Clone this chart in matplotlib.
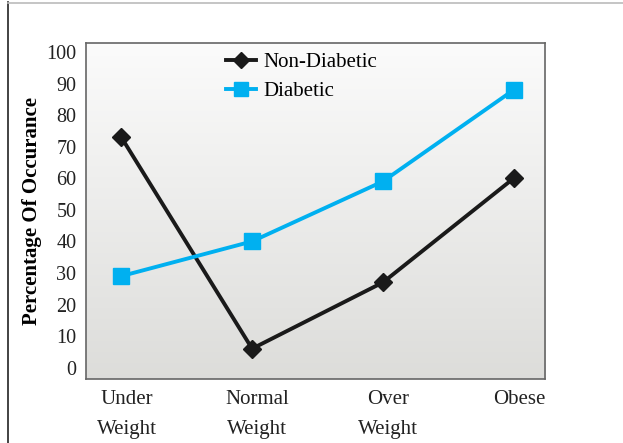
import matplotlib.pyplot as plt
import numpy as np
from matplotlib.lines import Line2D

categories = ['Under\nWeight', 'Normal\nWeight', 'Over\nWeight', 'Obese']
non_diabetic = [73, 6, 27, 60]
diabetic = [29, 40, 59, 88]
yticks = [0, 10, 20, 30, 40, 50, 60, 70, 80, 90, 100]

plt.rcParams['font.family'] = ['Liberation Serif', 'DejaVu Serif']

fig = plt.figure(figsize=(6.23, 4.43), dpi=100)
ax = fig.add_axes([0.138, 0.1445, 0.737, 0.758])

x = np.arange(len(categories))

# background gradient, white at top to light grey at bottom
grad = np.linspace(0, 1, 256).reshape(-1, 1)
top = np.array([0.985, 0.985, 0.985])
bot = np.array([0.865, 0.865, 0.855])
img = top + (bot - top) * grad[..., None]
ax.imshow(img, extent=[0, 1, 0, 1], transform=ax.transAxes, aspect='auto', zorder=0)

ax.plot(x, non_diabetic, color='#1a1a1a', linewidth=2.8, marker='D', markersize=9,
        label='Non-Diabetic', zorder=3)
ax.plot(x, diabetic, color='#00b0f0', linewidth=2.8, marker='s', markersize=11,
        label='Diabetic', zorder=3)

ax.set_xlim(-0.27, 3.24)
ax.set_ylim(-3.6, 102.8)
ax.set_yticks(yticks)
ax.set_yticklabels([str(v) for v in yticks], fontsize=14.5, color='#222222')
ax.set_xticks(x + 0.04)
ax.set_xticklabels(categories, fontsize=15, color='#222222', linespacing=1.75)
ax.tick_params(axis='both', length=0, pad=7)
ax.tick_params(axis='x', pad=8)

for s in ax.spines.values():
    s.set_color('#666666')
    s.set_linewidth(1.2)

ax.set_ylabel('Percentage Of Occurance', fontsize=15, fontweight='bold', labelpad=3)

ax.legend(loc='upper center', bbox_to_anchor=(0.47, 1.027), frameon=False, fontsize=15,
          handlelength=1.45, labelspacing=0.45, handletextpad=0.35, markerscale=0.9)

# page frame lines
fig.add_artist(Line2D([0.013, 0.013], [0, 0.995], color='#222222', linewidth=1.2))
fig.add_artist(Line2D([0.013, 1.0], [0.993, 0.993], color='#bbbbbb', linewidth=1.2))

plt.savefig('out.png', dpi=100)
